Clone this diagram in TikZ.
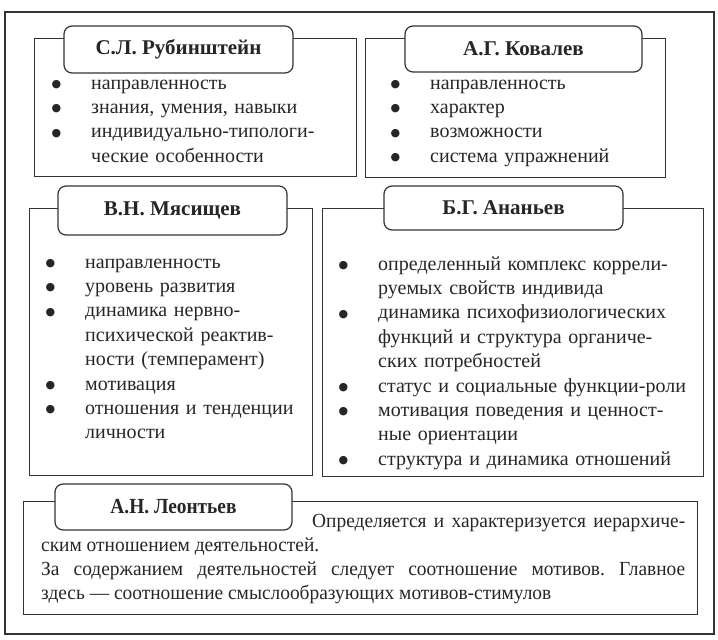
\documentclass[tikz,border=0pt]{standalone}
\usepackage{fontspec}
\setmainfont{Liberation Serif}
\newfontfamily\dotfont{DejaVu Sans}
\usetikzlibrary{positioning}
\definecolor{ink}{HTML}{262626}
\definecolor{edge}{HTML}{333333}
\hyphenpenalty=10000
\frenchspacing
\newcommand\itm{\leavevmode\llap{\raisebox{1.5pt}{\dotfont\fontsize{11}{10}\selectfont ●}\hspace{30pt}}}
\tikzset{
  frm/.style={draw=edge,line width=1.5pt},
  box/.style={draw=edge,line width=1.2pt,anchor=north west,inner sep=0pt},
  tab/.style={draw=edge,line width=1.2pt,fill=white,rounded corners=8pt,inner sep=0pt,
    font=\fontsize{21}{24}\selectfont\bfseries,text=ink},
  lst/.style={anchor=base west,inner sep=0pt,align=left,text=ink,
    font=\fontsize{20}{24.4}\selectfont}
}
\begin{document}
\begin{tikzpicture}[x=1pt,y=-1pt]
\useasboundingbox (0,0) rectangle (718,640);
\node[frm,anchor=north west,inner sep=0pt,minimum width=709,minimum height=622] (outer) at (4,11) {};
% boxes
\node[box,minimum width=322,minimum height=138] (rub) at (34,38) {};
\node[box,minimum width=300,minimum height=139] (kov) at (365,38) {};
\node[box,minimum width=283,minimum height=267] (mya) at (29,208) {};
\node[box,minimum width=381,minimum height=268] (ana) at (322,208) {};
\node[box,minimum width=674,minimum height=113] (leo) at (23,501) {};
% tabs
\node[tab,minimum width=229,minimum height=47] (trub) at (178.5,49.5) {С.Л. Рубинштейн};
\node[tab,minimum width=237,minimum height=46] (tkov) at (523.5,49) {А.Г. Ковалев};
\node[tab,minimum width=229,minimum height=49] (tmya) at (172.5,210.5) {В.Н. Мясищев};
\node[tab,minimum width=239,minimum height=44] (tana) at (503.5,208) {Б.Г. Ананьев};
\node[tab,minimum width=237,minimum height=46,font=\fontsize{21.5}{24}\selectfont\bfseries\addfontfeature{FakeStretch=0.9}] (tleo) at (173.5,507) {А.Н. Леонтьев};
% lists
\node[lst,text width=260pt] (lrub) at (91,89) {\itm направленность\\
  \itm знания, умения, навыки\\
  \itm индивидуально-типологи-\\
  ческие особенности};
\node[lst,text width=230pt] (lkov) at (430,89) {\itm направленность\\
  \itm характер\\
  \itm возможности\\
  \itm система упражнений};
\node[lst,text width=220pt] (lmya) at (85,268) {\itm направленность\\
  \itm уровень развития\\
  \itm динамика нервно-\\
  психической реактив-\\
  ности (темперамент)\\
  \itm мотивация\\
  \itm отношения и тенденции\\
  личности};
\node[lst,text width=320pt] (lana) at (378,270) {\itm определенный комплекс корре\-ли-\\
  руемых свойств индивида\\
  \itm динамика психофизиологических\\
  функций и структура органиче-\\
  ских потребностей\\
  \itm статус и социальные функции-роли\\
  \itm мотивация поведения и ценност-\\
  ные ориентации\\
  \itm структура и динамика отношений};
\node[lst,align=justify,text width=644pt,font=\fontsize{20}{24}\selectfont\addfontfeature{FakeStretch=0.97}] (lleo) at (41,527) {\hspace*{271pt}Определяется
  и характеризуется иерархиче-\linebreak ским отношением деятельностей.\newline
  За содержанием деятельностей следует соотношение мотивов. Главное\linebreak
  здесь~--- соотношение смыслообразующих мотивов-стимулов};
\end{tikzpicture}
\end{document}
